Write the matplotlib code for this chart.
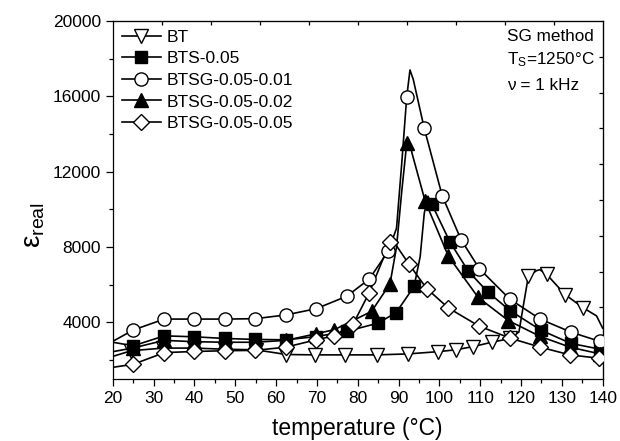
import numpy as np
import matplotlib
matplotlib.use("Agg")
import matplotlib.pyplot as plt
from matplotlib.ticker import MultipleLocator

plt.rcParams["font.family"] = ["Liberation Sans", "DejaVu Sans"]
plt.rcParams["mathtext.default"] = "regular"

# marker points (temperature in C, eps_real)
btT = [24.5, 32.3, 39.9, 47.5, 55.0, 62.5, 69.6, 77.0, 84.6, 92.2, 99.7, 104.0, 108.3, 112.8, 117.4, 121.8, 126.3, 130.8, 135.3]
btE = [2500, 2640, 2640, 2580, 2550, 2300, 2280, 2280, 2280, 2330, 2450, 2550, 2720, 2950, 3150, 6450, 6550, 5480, 4770]
# extra points (no marker)
btCurveT = [20.0, 119.5, 120.5, 123.8, 124.6, 138.5, 140.0]
btCurveE = [2200, 3500, 4800, 6750, 6800, 4350, 3700]

btsT = [25.0, 32.6, 39.9, 47.5, 54.9, 62.4, 69.8, 77.3, 84.9, 89.4, 93.8, 98.1, 102.6, 107.1, 111.8, 117.3, 124.8, 132.2, 139.4]
btsE = [2760, 3290, 3240, 3150, 3100, 3080, 3250, 3530, 3960, 4520, 5910, 10300, 8270, 6720, 5630, 4630, 3600, 2890, 2580]
btsCurveT = [20.0, 95.3, 96.3, 97.2, 140.0]
btsCurveE = [2950, 7500, 9800, 10700, 2500]

sg01T = [25.0, 32.6, 39.9, 47.5, 54.9, 62.4, 69.8, 77.3, 82.8, 87.5, 92.0, 96.3, 100.7, 105.3, 109.8, 117.3, 124.7, 132.2, 139.4]
sg01E = [3600, 4180, 4180, 4180, 4200, 4400, 4730, 5390, 6300, 7790, 15970, 14300, 10720, 8400, 6850, 5230, 4180, 3490, 2990]
sg01CurveT = [20.0, 89.5, 90.8, 92.8, 93.6, 140.0]
sg01CurveE = [3000, 9000, 12500, 17400, 16900, 2900]

sg02T = [25.0, 32.6, 39.9, 47.5, 54.9, 62.4, 69.8, 74.3, 83.4, 87.9, 92.0, 96.5, 102.2, 109.5, 116.9, 124.7, 132.0, 139.4]
sg02E = [2650, 3050, 2980, 2950, 2950, 3050, 3400, 3620, 4590, 6050, 13500, 10450, 7520, 5330, 4100, 3260, 2690, 2330]
sg02CurveT = [20.0, 89.5, 90.8, 92.5, 93.4, 140.0]
sg02CurveE = [2450, 8000, 11000, 13700, 12900, 2300]

sg05T = [25.0, 32.6, 39.9, 47.5, 54.9, 62.4, 69.8, 74.2, 78.9, 82.8, 87.9, 92.6, 96.9, 102.2, 109.7, 117.3, 124.7, 132.0, 139.2]
sg05E = [1780, 2400, 2460, 2500, 2520, 2690, 3080, 3290, 3930, 5570, 8270, 7080, 5800, 4770, 3810, 3170, 2690, 2280, 2100]
sg05CurveT = [20.0, 88.4, 140.0]
sg05CurveE = [1620, 8420, 2000]

labels = ["BT", "BTS-0.05", "BTSG-0.05-0.01", "BTSG-0.05-0.02", "BTSG-0.05-0.05"]

series = [
    (btT, btE, btCurveT, btCurveE, "v", "white"),
    (btsT, btsE, btsCurveT, btsCurveE, "s", "black"),
    (sg01T, sg01E, sg01CurveT, sg01CurveE, "o", "white"),
    (sg02T, sg02E, sg02CurveT, sg02CurveE, "^", "black"),
    (sg05T, sg05E, sg05CurveT, sg05CurveE, "D", "white"),
]
markerSizes = {"v": 9.5, "s": 8, "o": 9.5, "^": 9.5, "D": 8}

fig = plt.figure(figsize=(6.2, 4.41), dpi=100)
ax = fig.add_axes([0.182, 0.1406, 0.790, 0.8118])

for (mT, mE, cT, cE, mk, fc), lab in zip(series, labels):
    allT = np.array(list(mT) + list(cT))
    allE = np.array(list(mE) + list(cE))
    order = np.argsort(allT)
    ax.plot(allT[order], allE[order], color="black", lw=1.2, zorder=2)
    ax.plot(mT, mE, ls="none", marker=mk, ms=markerSizes[mk], mfc=fc, mec="black", mew=1.0, zorder=3)
    # legend proxy
    ax.plot([], [], color="black", lw=1.2, marker=mk, ms=markerSizes[mk], mfc=fc, mec="black", mew=1.0, label=lab)

ax.set_xlim(20, 140)
ax.set_ylim(1000, 20000)
ax.xaxis.set_major_locator(MultipleLocator(10))
ax.xaxis.set_minor_locator(MultipleLocator(5))
ax.set_yticks([4000, 8000, 12000, 16000, 20000])
ax.set_yticks([2000, 6000, 10000, 14000, 18000], minor=True)
ax.tick_params(which="major", direction="out", length=5, width=0.9, labelsize=12.5)
ax.tick_params(which="minor", direction="out", length=3, width=0.9)
for sp in ax.spines.values():
    sp.set_linewidth(0.9)

top = ax.secondary_xaxis("top")
top.set_xticks([32, 44, 56, 68, 80, 92, 104, 116, 128])
top.tick_params(direction="in", length=3, width=0.9, labeltop=False)
right = ax.secondary_yaxis("right")
right.set_yticks([2900, 4800, 6700, 8600, 10500, 12400, 14300, 16200, 18100])
right.tick_params(direction="in", length=3, width=0.9, labelright=False)

ax.set_xlabel("temperature (°C)", fontsize=16.5, labelpad=8)
ax.set_ylabel("ε$_{real}$", fontsize=20)
ax.yaxis.set_label_coords(-0.135, 0.43)

ax.text(0.804, 0.958, "SG method", transform=ax.transAxes, fontsize=12.3, va="center")
ax.text(0.804, 0.891, "T$_S$=1250°C", transform=ax.transAxes, fontsize=12.3, va="center")
ax.text(0.804, 0.821, "ν = 1 kHz", transform=ax.transAxes, fontsize=12.3, va="center")

ax.legend(loc="upper left", frameon=False, fontsize=12.5, handlelength=2.3,
          handletextpad=0.3, labelspacing=0.37, borderaxespad=0.3, borderpad=0.2)

fig.savefig("out.png", dpi=100)
